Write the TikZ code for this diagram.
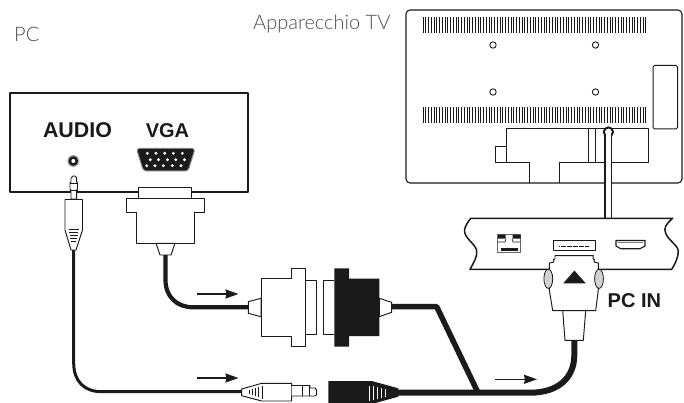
\documentclass[tikz,border=0pt]{standalone}
\usepackage{fontspec}
\usetikzlibrary{arrows.meta}
\setmainfont{Liberation Sans}
\newfontfamily\lightfont{Lato Light}
\definecolor{ink}{HTML}{1A1A1A}
\definecolor{lab}{HTML}{505050}
\tikzset{
  ln/.style={draw=ink,line width=#1,line join=round},
  ln/.default=1pt,
  lightlabel/.style={anchor=base west,inner sep=0pt,text=lab,font=\lightfont\fontsize{20}{22}\selectfont},
  boldlabel/.style={anchor=base,inner sep=0pt,text=ink,font=\bfseries\fontsize{20}{22}\selectfont},
  flow/.style={draw=ink,line width=1.5pt,-{Stealth[length=13pt,width=9pt,inset=1pt]}},
  cable/.style={draw=ink,line width=#1,line join=round},
  part/.style={ln=.95pt,fill=white},
}
\begin{document}
\begin{tikzpicture}[x=1pt,y=-1pt]
\useasboundingbox (0,0) rectangle (684,403);
\fill[white] (0,0) rectangle (684,403);
% labels
\node[lightlabel] (pclabel) at (14,41.5) {PC};
\node[lightlabel] (tvlabel) at (253,30) {Apparecchio TV};
\node[boldlabel,font=\bfseries\fontsize{21.4}{22}\selectfont] (audiolabel) at (77.5,137.5) {AUDIO};
\node[boldlabel] (vgalabel) at (167.5,137.5) {VGA};
\node[boldlabel,anchor=base west] (pcinlabel) at (607.5,307.5) {PC IN};
% PC box
\draw[ln=2pt] (10,93.5) rectangle (248,192.5);
% audio jack
\fill[gray!70] (73.3,161) circle (6);
\fill[ink] (73.3,161) circle (4.8);
\fill[white] (73.3,161) circle (2);
% VGA port
\draw[ink,fill=ink,line width=1pt,rounded corners=3pt,draw=gray] (136.5,148.5) -- (195,148.5) -- (188,171) -- (143.5,171) -- cycle;
\foreach \px in {147.3,156,164.7,173.3,182.3}{\fill[white] (\px,153.3) circle (1.6);}
\foreach \px in {151.7,160,169,177.3,186}{\fill[white] (\px-1.5,159.7) circle (1.6);}
\foreach \px in {146.7,155,163.3,172.3,181}{\fill[white] (\px,165.7) circle (1.6);}
% audio plug in PC
\draw[part] (71,199) -- (71,190) -- (70,189) -- (70,183) -- (71,182) -- (71,178) -- (73,176) -- (75,176) -- (76.7,178) -- (76.7,182) -- (77.5,183) -- (77.5,189) -- (76.7,190) -- (76.7,199) -- cycle;
\draw[ln=.8pt] (70,183) -- (77.5,183) (70,190) -- (77.5,190);
\draw[part] (65,199.5) -- (82.5,199.5) -- (82.5,230) -- (76,250) -- (71,250) -- (65,230) -- cycle;
\foreach \ya/\hw in {229.3/5,232.5/4.7,235.5/4.2,238.5/3.5,241.5/2.6}{\draw[ln=1pt] (73.7-\hw,\ya) -- (73.7+\hw,\ya);}
% VGA plug at PC
\draw[part] (138.3,198.3) -- (138.3,187.3) -- (191.7,187.3) -- (191.7,198.3);
\draw[part] (126.7,198.3) -- (204.3,198.3) -- (204.3,212.7) -- (194,212.7) -- (194,243.3) -- (136,243.3) -- (136,212.7) -- (126.7,212.7) -- cycle;
\draw[part] (156,243.3) -- (175,243.3) -- (171,255) -- (160,255) -- cycle;
% cables
\coordinate (vgaout) at (165.5,255);
\coordinate (vgain) at (248.3,307.3);
\draw[cable=4.2pt] (vgaout) -- (165.5,280) .. controls (165.5,297) and (177,307.3) .. (193.3,307.3) -- (vgain);
\coordinate (jackout) at (73.7,250);
\coordinate (jackin) at (241.7,391.7);
\draw[cable=3pt] (jackout) -- (73.7,363) .. controls (73.7,381) and (84,391.7) .. (101.7,391.7) -- (jackin);
\coordinate (vgaright) at (391.7,306.7);
\coordinate (junction) at (478,392.7);
\draw[cable=5.5pt] (vgaright) -- (436.7,306.7) -- (junction);
\coordinate (plugright) at (398,392.7);
\coordinate (tvplug) at (574.3,340.3);
\draw[cable=6pt] (plugright) -- (530,392.7) .. controls (558,392.7) and (574.3,378) .. (574.3,355) -- (tvplug);
% middle VGA pair - white
\draw[part] (261,298.3) -- (248.3,301.7) -- (248.3,313.3) -- (261,316.7) -- cycle;
\draw[part] (305.7,280.7) -- (316.3,280.7) -- (316.3,334.3) -- (305.7,334.3);
\draw[part] (261,278.7) -- (291,278.7) -- (291,268.3) -- (305.7,268.3) -- (305.7,346.7) -- (291,346.7) -- (291,336) -- (261,336) -- cycle;
% middle VGA pair - black
\draw[part] (334.3,280.7) -- (323.3,280.7) -- (323.3,334.3) -- (334.3,334.3);
\draw[part] (379.3,298.3) -- (391.7,302.3) -- (391.7,312.3) -- (379.3,316.7) -- cycle;
\fill[ink] (334.3,268.3) -- (349,268.3) -- (349,278.7) -- (379.3,278.7) -- (379.3,336) -- (349,336) -- (349,346.7) -- (334.3,346.7) -- cycle;
% white audio plug
\draw[part] (241.7,389) -- (261.7,383.3) -- (291.7,383.3) -- (291.7,401) -- (261.7,401) -- (241.7,395.7) -- cycle;
\foreach \gx/\hh in {249/2,252/3,255/4,258/5,262.5/6.5}{\draw[ln=1pt] (\gx,392.2-\hh) -- (\gx,392.2+\hh);}
\draw[part] (291.7,385.5) -- (310,385.5) -- (310,388) -- (315,388) -- (316.7,390) -- (316.7,394.5) -- (315,396) -- (310,396) -- (291.7,396);
\draw[ln=.9pt] (302,385.5) -- (302,396) (309.5,385.5) -- (309.5,396);
% black audio plug
\fill[ink] (328.3,381) -- (371.7,381) -- (398.3,388.3) -- (398.3,396.7) -- (371.7,404) -- (328.3,404) -- cycle;
\foreach \gx/\hh in {369.5/7.5,373.5/7,377.5/6,381.5/5,385.5/4}{\draw[white,line width=1pt] (\gx,393-\hh) -- (\gx,393+\hh);}
% flow arrows
\coordinate (a1s) at (196.7,294); \coordinate (a1e) at (238.5,294);
\coordinate (a2s) at (196.7,378); \coordinate (a2e) at (238.5,378);
\coordinate (a3s) at (495,379.3); \coordinate (a3e) at (537,379.3);
\draw[flow] (a1s) -- (a1e);
\draw[flow] (a2s) -- (a2e);
\draw[flow] (a3s) -- (a3e);
% TV
\draw[ln=1.1pt,rounded corners=4pt] (406,10) rectangle (682,183);
\foreach \vx in {423,425.75,...,646}{\draw[ink,line width=.9pt] (\vx,17) -- (\vx,33) (\vx,107) -- (\vx,123);}
\foreach \hx/\hy in {493/45,595.5/45,493/92,595.5/92}{\draw[ln=.9pt] (\hx,\hy) circle (3.2);}
\draw[ln=1pt,rounded corners=1.5pt] (653,65.5) rectangle (677.5,129);
\draw[ln=1pt] (529.3,183) -- (529.3,162.7) -- (495.3,162.7) -- (495.3,147) -- (506.7,147);
\draw[ln=1pt] (506.7,162.7) -- (506.7,129) -- (648.3,129) -- (648.3,162.7) -- (559.3,162.7) -- (559.3,183);
\draw[ln=1pt] (588.3,129) -- (588.3,162.7) (595.3,129) -- (595.3,162.7);
\coordinate (standa) at (605.2,134); \coordinate (standb) at (611.6,134);
\coordinate (panela) at (605.2,218.3); \coordinate (panelb) at (611.6,218.3);
\fill[white] (605.2,134) rectangle (611.6,218.3);
\draw[ln=1.5pt] (standa) -- (panela) (standb) -- (panelb);
\draw[ln=2pt,fill=white] (608.4,132) circle (4.6);
\fill[white] (605.9,134) rectangle (610.9,140);
\draw[ln=1.5pt] (605.2,136) -- (605.2,140) (611.6,136) -- (611.6,140);
% panel
\draw[ln=1.5pt] (470.7,218.3) -- (672.7,218.3) .. controls (666,224) and (663,228) .. (666,234) .. controls (669,241) and (679,246) .. (678.3,252) .. controls (678,258) and (675,264) .. (671.7,269.3) -- (470,269.3) .. controls (473,264) and (478,256) .. (476.5,250) .. controls (474.5,243) and (464,238) .. (464.5,230) .. controls (465,226) and (468,222) .. (470.7,218.3) -- cycle;
% RJ45
\draw[ln=1pt,draw=gray!80!black] (497.7,234.5) rectangle (520.7,252.7);
\fill[ink] (498,234.5) rectangle (505.5,238.5) (512.5,234.5) rectangle (520.5,238.5);
\fill[ink] (500.5,248) -- (518,248) -- (518,251) -- (500.5,251) -- cycle;
\draw[ink,line width=.6pt] (498,242) -- (505,242) -- (506,238.5) (520.5,242) -- (513,242) -- (512,238.5);
% slot
\draw[ln=1pt] (553.3,240.7) rectangle (595.7,250.7);
\draw[ink,line width=1pt,dash pattern=on .8pt off .4pt] (559.3,246) -- (589.3,246);
% HDMI
\draw[ln=1.1pt] (616,240.5) -- (645,240.5) -- (645,246) -- (640,248.7) -- (620.7,248.7) -- (616,246) -- cycle;
\draw[gray,line width=.6pt] (618,242.3) -- (643,242.3);
% PC IN connector
\draw[part] (555,255.7) -- (593.3,255.7) -- (593,259) -- (594.5,259.5) -- (594,262) -- (598.3,263) -- (598.3,290) -- (595.7,310.7) -- (552.7,310.7) -- (549.3,290) -- (549.3,263) -- (554,262) -- (553.5,259.5) -- (555,259) -- cycle;
\draw[ln=.8pt,fill=gray!35] (548.3,278.8) ellipse (4.4 and 9.6);
\draw[ln=.8pt,fill=gray!35] (599,278.8) ellipse (4.4 and 9.6);
\fill[ink] (563.3,283.3) -- (585.7,283.3) -- (574.4,270.5) -- cycle;
\draw[part] (562.7,310.7) -- (585.7,310.7) -- (583.3,340.3) -- (565,340.3) -- cycle;
\end{tikzpicture}
\end{document}
